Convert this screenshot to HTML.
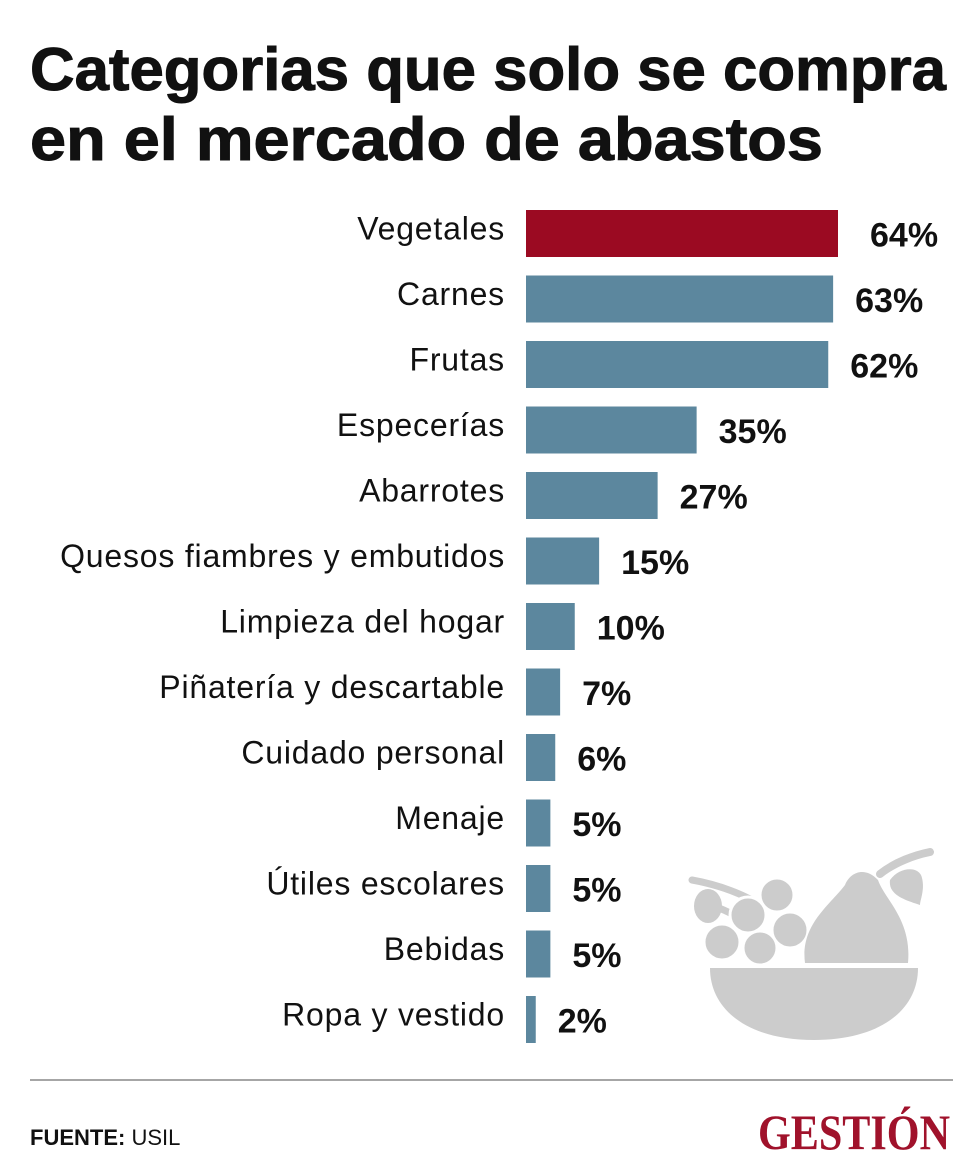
<!DOCTYPE html>
<html><head><meta charset="utf-8"><style>
html,body{margin:0;padding:0;background:#fff;}
svg{display:block;}
</style></head><body>
<svg id="chart" width="980" height="1174" viewBox="0 0 980 1174">
<text x="30" y="90" font-family="Liberation Sans, sans-serif" font-weight="bold" font-size="60" textLength="916" lengthAdjust="spacingAndGlyphs" fill="#111" stroke="#111" stroke-width="1">Categorias que solo se compra</text>
<text x="30" y="160" font-family="Liberation Sans, sans-serif" font-weight="bold" font-size="60" textLength="793" lengthAdjust="spacingAndGlyphs" fill="#111" stroke="#111" stroke-width="1">en el mercado de abastos</text>
<g id="bars"></g>
<g fill="#cccccc">
  <path d="M704 905 C720 905 745 920 762 935" stroke="#ccc" stroke-width="7" fill="none" stroke-linecap="round"/>
  <path d="M692 880 C720 885 745 895 760 905" stroke="#ccc" stroke-width="7" fill="none" stroke-linecap="round"/>
  <ellipse cx="708" cy="906" rx="14" ry="17"/>
  <circle cx="777" cy="895" r="17" stroke="#fff" stroke-width="3"/>
  <circle cx="790" cy="930" r="18" stroke="#fff" stroke-width="3"/>
  <circle cx="748" cy="915" r="18" stroke="#fff" stroke-width="3"/>
  <circle cx="722" cy="942" r="18" stroke="#fff" stroke-width="3"/>
  <circle cx="760" cy="948" r="17" stroke="#fff" stroke-width="3"/>
  <path d="M805 963 C800 925 830 905 845 885 C850 872 865 866 878 880 C885 900 912 920 908 963 Z"/>
  <path d="M880 874 C895 862 915 855 930 852" stroke="#ccc" stroke-width="8" fill="none" stroke-linecap="round"/>
  <path d="M890 880 C900 866 920 866 922 878 C925 890 920 900 920 905 C905 900 888 895 890 880 Z"/>
  <path d="M710 968 L918 968 C918 1010 880 1040 814 1040 C748 1040 710 1010 710 968 Z"/>
</g>
<line x1="30" y1="1080" x2="953" y2="1080" stroke="#888" stroke-width="1.5"/>
<text x="30" y="1145" font-family="Liberation Sans, sans-serif" font-size="22" fill="#111"><tspan font-weight="bold">FUENTE:</tspan> USIL</text>
<text x="758" y="1149" font-family="Liberation Serif, serif" font-weight="bold" font-size="50" fill="#a0122b" textLength="192" lengthAdjust="spacingAndGlyphs">GESTIÓN</text>
</svg>
<script>
const categories=["Vegetales","Carnes","Frutas","Especerías","Abarrotes","Quesos fiambres y embutidos","Limpieza del hogar","Piñatería y descartable","Cuidado personal","Menaje","Útiles escolares","Bebidas","Ropa y vestido"];
const values=[64,63,62,35,27,15,10,7,6,5,5,5,2];
const valueLabels=["64%","63%","62%","35%","27%","15%","10%","7%","6%","5%","5%","5%","2%"];
const NS="http://www.w3.org/2000/svg";
const x0=526, pxPer=4.875, y0=210, step=65.5, bh=47;
function xScale(v){return x0+v*pxPer;}
function yScale(i){return y0+i*step;}
const g=document.getElementById('bars');
categories.forEach((c,i)=>{
  const y=yScale(i);
  const t=document.createElementNS(NS,'text');
  t.setAttribute('x',505);t.setAttribute('y',y+bh/2+6);
  t.setAttribute('text-anchor','end');
  t.setAttribute('font-family','Liberation Sans, sans-serif');
  t.setAttribute('font-size','32');t.setAttribute('fill','#111');
  t.setAttribute('letter-spacing','0.8');
  t.textContent=c;
  
  
  g.appendChild(t);
  const r=document.createElementNS(NS,'rect');
  r.setAttribute('x',x0);r.setAttribute('y',y);
  r.setAttribute('width',xScale(values[i])-x0);r.setAttribute('height',bh);
  r.setAttribute('fill',i===0?'#9b0a22':'#5c879e');
  
  
  g.appendChild(r);
  const v=document.createElementNS(NS,'text');
  v.setAttribute('x',xScale(values[i])+(i===0?32:22));v.setAttribute('y',y+bh/2+13);
  v.setAttribute('font-family','Liberation Sans, sans-serif');
  v.setAttribute('font-weight','bold');
  v.setAttribute('font-size','34');v.setAttribute('fill','#111');
  v.textContent=valueLabels[i];
  
  
  g.appendChild(v);
});
</script>
</body></html>
